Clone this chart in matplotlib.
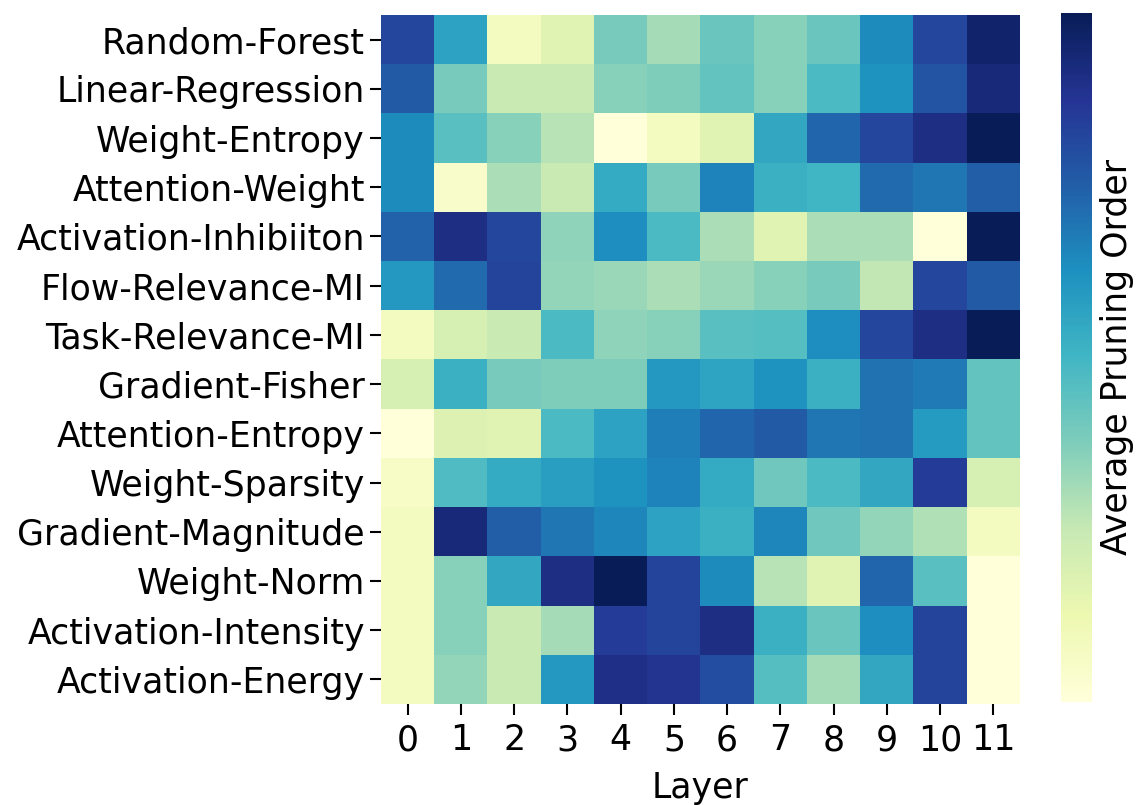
import matplotlib
matplotlib.use("Agg")
import matplotlib.pyplot as plt
import numpy as np

methods = [
    "Random-Forest", "Linear-Regression", "Weight-Entropy", "Attention-Weight",
    "Activation-Inhibiiton", "Flow-Relevance-MI", "Task-Relevance-MI",
    "Gradient-Fisher", "Attention-Entropy", "Weight-Sparsity",
    "Gradient-Magnitude", "Weight-Norm", "Activation-Intensity", "Activation-Energy",
]
layers = list(range(12))

# average pruning order per method (rows) and layer (columns), normalised to [0, 1]
random_forest = [0.82, 0.57, 0.08, 0.17, 0.39, 0.31, 0.42, 0.36, 0.42, 0.64, 0.82, 0.96]
linear_regression = [0.76, 0.39, 0.24, 0.24, 0.36, 0.375, 0.43, 0.36, 0.48, 0.62, 0.78, 0.93]
weight_entropy = [0.64, 0.45, 0.36, 0.28, 0.0, 0.08, 0.17, 0.55, 0.73, 0.82, 0.91, 1.0]
attention_weight = [0.64, 0.05, 0.30, 0.24, 0.54, 0.39, 0.66, 0.52, 0.50, 0.72, 0.69, 0.75]
activation_inhibition = [0.74, 0.91, 0.82, 0.35, 0.63, 0.48, 0.30, 0.17, 0.30, 0.30, 0.0, 1.0]
flow_relevance_mi = [0.60, 0.72, 0.83, 0.34, 0.33, 0.30, 0.33, 0.36, 0.39, 0.26, 0.82, 0.76]
task_relevance_mi = [0.08, 0.20, 0.24, 0.48, 0.35, 0.36, 0.45, 0.46, 0.63, 0.82, 0.91, 1.0]
gradient_fisher = [0.20, 0.52, 0.39, 0.375, 0.375, 0.60, 0.56, 0.62, 0.52, 0.70, 0.68, 0.43]
attention_entropy = [0.0, 0.18, 0.17, 0.48, 0.57, 0.67, 0.73, 0.76, 0.69, 0.70, 0.59, 0.43]
weight_sparsity = [0.06, 0.47, 0.54, 0.58, 0.62, 0.66, 0.54, 0.41, 0.48, 0.55, 0.85, 0.20]
gradient_magnitude = [0.08, 0.93, 0.75, 0.69, 0.65, 0.57, 0.52, 0.65, 0.41, 0.34, 0.29, 0.08]
weight_norm = [0.08, 0.36, 0.55, 0.91, 1.0, 0.83, 0.64, 0.28, 0.17, 0.73, 0.45, 0.0]
activation_intensity = [0.08, 0.36, 0.24, 0.31, 0.85, 0.83, 0.91, 0.52, 0.42, 0.63, 0.83, 0.0]
activation_energy = [0.08, 0.34, 0.24, 0.60, 0.90, 0.88, 0.80, 0.46, 0.31, 0.55, 0.83, 0.0]

order = np.array([
    random_forest, linear_regression, weight_entropy, attention_weight,
    activation_inhibition, flow_relevance_mi, task_relevance_mi,
    gradient_fisher, attention_entropy, weight_sparsity,
    gradient_magnitude, weight_norm, activation_intensity, activation_energy,
])

fs = 25
fig = plt.figure(figsize=(11.42, 8.05), dpi=100)
ax = fig.add_axes([0.3336, 0.1255, 0.5595, 0.8559])
cax = fig.add_axes([0.9291, 0.128, 0.0271, 0.856])

mesh = ax.pcolormesh(order, cmap="YlGnBu", vmin=0, vmax=1)
ax.set_xlim(0, len(layers))
ax.set_ylim(len(methods), 0)
for side in ax.spines.values():
    side.set_visible(False)

ax.set_xticks(np.arange(len(layers)) + 0.5)
ax.set_xticklabels([str(l) for l in layers], fontsize=fs)
ax.set_yticks(np.arange(len(methods)) + 0.5)
ax.set_yticklabels(methods, fontsize=fs)
ax.tick_params(length=8, width=1.5)
ax.tick_params(axis="x", pad=6)
ax.set_xlabel("Layer", fontsize=fs, labelpad=10)

cbar = fig.colorbar(mesh, cax=cax)
cbar.set_ticks([])
cbar.outline.set_visible(False)
cbar.set_label("Average Pruning Order", fontsize=fs, labelpad=6)

fig.savefig("out.png", dpi=100)
